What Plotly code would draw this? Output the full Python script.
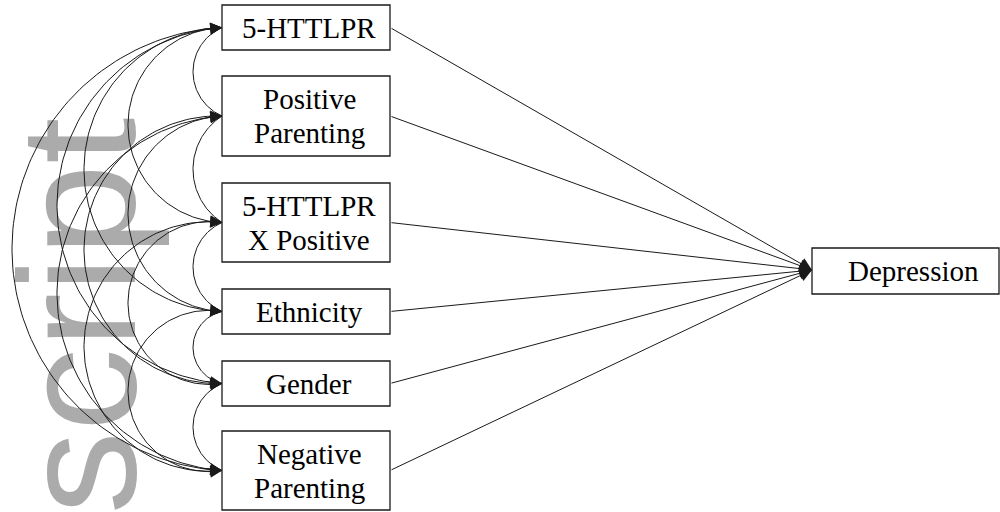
import numpy as np
import plotly.graph_objects as go

# nodes of the path model (top to bottom)
predictors = ["5-HTTLPR", "Positive<br>Parenting", "5-HTTLPR<br>X Positive",
              "Ethnicity", "Gender", "Negative<br>Parenting"]
outcome = "Depression"

# covariances between predictors (curved double-headed arrows)
cov_pairs = [(0, 1), (1, 2), (2, 3), (3, 4), (4, 5),
             (0, 2), (1, 3), (2, 4), (3, 5),
             (0, 3), (1, 4), (2, 5),
             (0, 4), (1, 5),
             (0, 5)]
# regression paths predictor -> outcome
paths = [0, 1, 2, 3, 4, 5]

watermark = "script"

# layout of boxes (pixel coordinates)
box_x0, box_x1 = 222, 390
box_y = [(5, 50), (76, 156), (183, 262), (289, 334), (361, 406), (431, 510)]
out_box = (812, 999, 248, 294)
bulge = {1: 29, 2: 94, 3: 138, 4: 165, 5: 210}

line_col = "#1a1a1a"
font_serif = "Liberation Serif, Times New Roman, serif"

fig = go.Figure()
shapes = []
annotations = []

# watermark, under everything
shapes.append(dict(type="rect", x0=11, x1=111, y0=120, y1=512, layer="below",
                   line=dict(width=0), fillcolor="rgba(0,0,0,0)",
                   label=dict(text=watermark, textangle=-90, textposition="middle center",
                              font=dict(family="Liberation Sans, Arial", size=166, color="#ababab"))))

centers = [(a + b) / 2 for a, b in box_y]

for (a, b) in box_y:
    shapes.append(dict(type="rect", x0=box_x0, x1=box_x1, y0=a, y1=b,
                       line=dict(color=line_col, width=1.3), fillcolor="white", layer="above"))
shapes.append(dict(type="rect", x0=out_box[0], x1=out_box[1], y0=out_box[2], y1=out_box[3],
                   line=dict(color=line_col, width=1.3), fillcolor="white", layer="above"))

# box labels
for lab, yc in zip(predictors, centers):
    lines = lab.split("<br>")
    n = len(lines)
    for k, t in enumerate(lines):
        annotations.append(dict(x=309, y=yc + (k - (n - 1) / 2) * 34, text=t, showarrow=False,
                                xref="x", yref="y",
                                font=dict(family=font_serif, size=29, color="black")))
annotations.append(dict(x=913, y=(out_box[2] + out_box[3]) / 2, text=outcome, showarrow=False,
                        xref="x", yref="y", font=dict(family=font_serif, size=29, color="black")))

# regression arrows
tx, ty = out_box[0], (out_box[2] + out_box[3]) / 2 - 1
for i in paths:
    annotations.append(dict(x=tx, y=ty, ax=box_x1, ay=centers[i], xref="x", yref="y",
                            axref="x", ayref="y", text="", showarrow=True, arrowhead=2,
                            arrowsize=2.5, arrowwidth=1, arrowcolor=line_col, standoff=0))

# covariance arcs (circular, bulging to the left)
xs, ys = [], []
for i, j in cov_pairs:
    y0, y1 = centers[i], centers[j]
    h = y1 - y0
    s = bulge[j - i]
    R = ((h / 2) ** 2 + s ** 2) / (2 * s)
    cx, cy = box_x0 - s + R, (y0 + y1) / 2
    a0 = np.arctan2(-h / 2, s - R) + 2 * np.pi
    a1 = np.arctan2(h / 2, s - R)
    t = np.linspace(a1, a0, 120)
    px = cx + R * np.cos(t)
    py = cy + R * np.sin(t)
    xs += list(px) + [None]
    ys += list(py) + [None]
    # arrowheads at both ends, aligned with the tangent
    for tip, back in ((0, 4), (-1, -5)):
        annotations.append(dict(x=px[tip], y=py[tip], ax=px[back], ay=py[back],
                                xref="x", yref="y", axref="x", ayref="y", text="",
                                showarrow=True, arrowhead=2, arrowsize=2.6, arrowwidth=0.9,
                                arrowcolor=line_col, standoff=0))

fig.add_trace(go.Scatter(x=xs, y=ys, mode="lines", line=dict(color=line_col, width=1),
                         hoverinfo="skip", showlegend=False))

fig.update_xaxes(range=[0, 1000], visible=False)
fig.update_yaxes(range=[512, 0], visible=False)
fig.update_layout(width=1000, height=512, margin=dict(l=0, r=0, t=0, b=0),
                  plot_bgcolor="white", paper_bgcolor="white",
                  shapes=shapes, annotations=annotations, showlegend=False)
fig.write_html("out.html", config={"displayModeBar": False},
               post_script="document.body.style.margin='0px';")
